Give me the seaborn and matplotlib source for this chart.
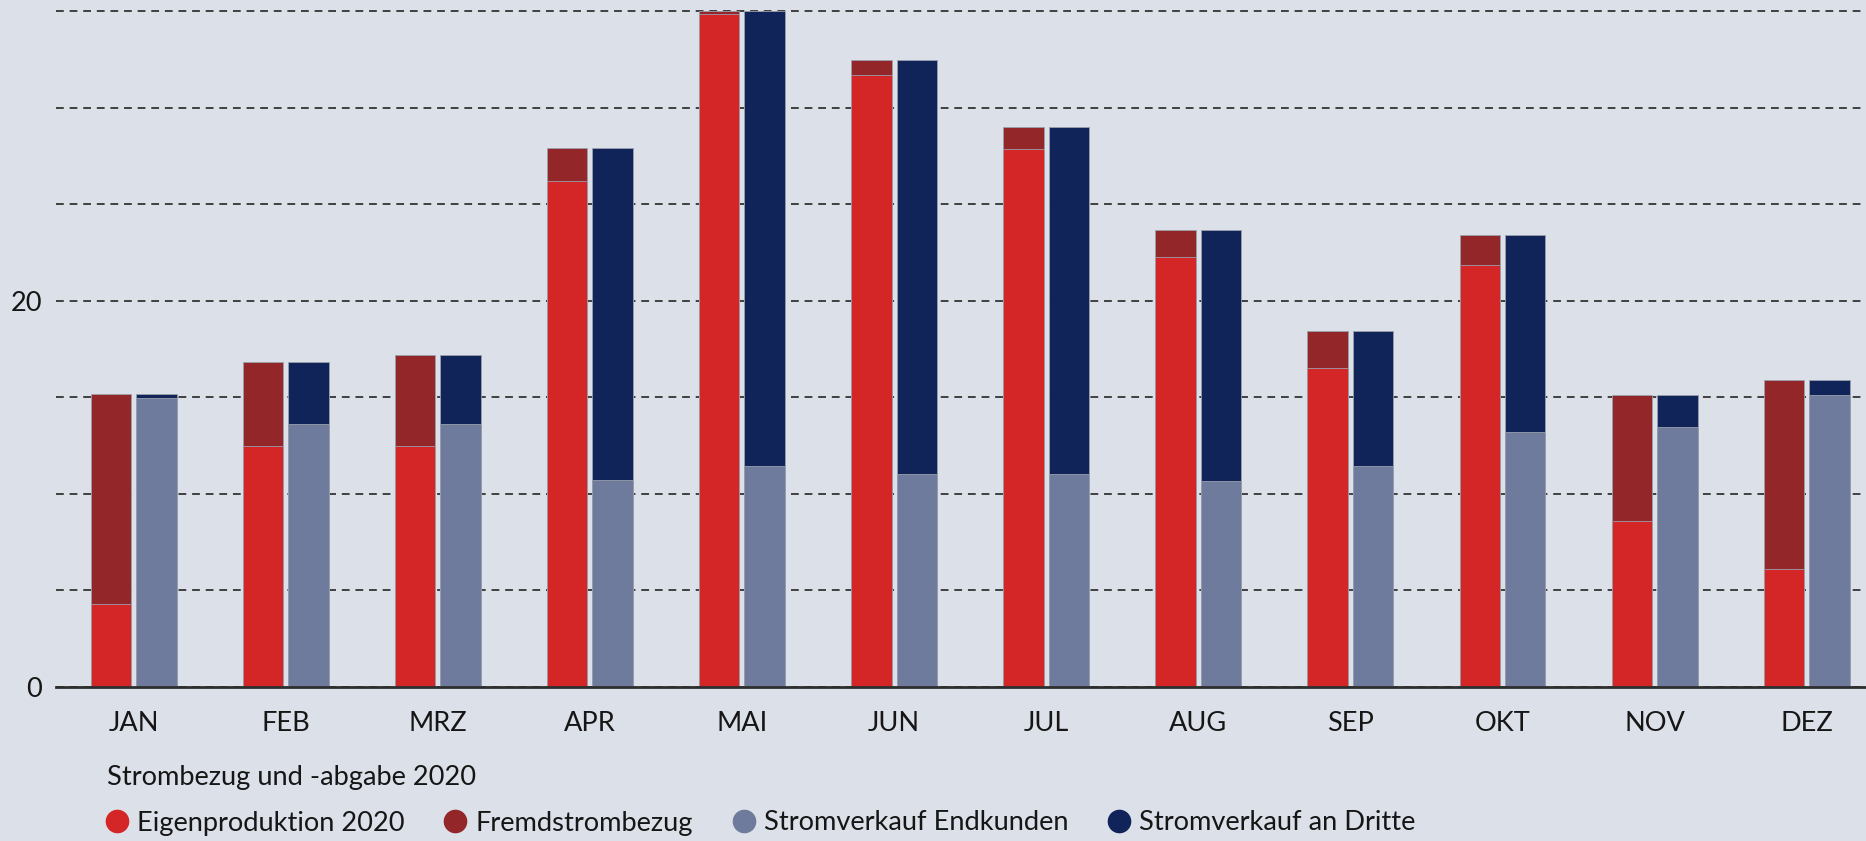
import numpy as np
import pandas as pd
import matplotlib
matplotlib.use("Agg")
import matplotlib.pyplot as plt
from matplotlib.lines import Line2D
import seaborn as sns

# values (GWh-ish scale, 0..35)
months = ["JAN", "FEB", "MRZ", "APR", "MAI", "JUN", "JUL", "AUG", "SEP", "OKT", "NOV", "DEZ"]
eigenproduktion = [4.3, 12.5, 12.5, 26.2, 34.85, 31.7, 27.85, 22.3, 16.55, 21.85, 8.6, 6.1]
fremdstrombezug = [10.9, 4.35, 4.7, 1.7, 0.15, 0.8, 1.15, 1.4, 1.9, 1.55, 6.55, 9.8]
verkauf_endkunden = [14.95, 13.65, 13.65, 10.7, 11.45, 11.05, 11.05, 10.65, 11.45, 13.2, 13.45, 15.15]
verkauf_dritte = [0.25, 3.2, 3.55, 17.2, 23.55, 21.45, 17.95, 13.05, 7.0, 10.2, 1.7, 0.75]

series_names = ["Eigenproduktion 2020", "Fremdstrombezug", "Stromverkauf Endkunden", "Stromverkauf an Dritte"]
chart_title = "Strombezug und -abgabe 2020"

BG = "#dce0e8"
C_EIGEN = "#d42527"
C_FREMD = "#932628"
C_ENDK = "#6f7b9c"
C_DRITTE = "#10245a"
TEXT = "#161616"

sns.set_theme(style="white")
plt.rcParams["font.family"] = ["Lato", "DejaVu Sans"]

eig = np.array(eigenproduktion)
fre = np.array(fremdstrombezug)
endk = np.array(verkauf_endkunden)
dri = np.array(verkauf_dritte)

# top layer = full stack height, bottom layer = lower segment
top = pd.DataFrame({
    "month": months * 2,
    "side": ["Bezug"] * 12 + ["Abgabe"] * 12,
    "value": np.concatenate([eig + fre, endk + dri]),
})
bottom = pd.DataFrame({
    "month": months * 2,
    "side": ["Bezug"] * 12 + ["Abgabe"] * 12,
    "value": np.concatenate([eig, endk]),
})

fig = plt.figure(figsize=(18.66, 8.41), dpi=100, facecolor=BG)
ax = fig.add_axes([56 / 1866, 154 / 841, 1 - 56 / 1866, (687 - 9.5) / 841])
ax.set_facecolor(BG)

bar_kw = dict(x="month", y="value", hue="side", order=months, hue_order=["Bezug", "Abgabe"],
              dodge=True, width=0.598, gap=0.11, errorbar=None, legend=False,
              edgecolor="#9aa0ad", linewidth=0.6, saturation=1, ax=ax, zorder=3)
sns.barplot(data=top, palette={"Bezug": C_FREMD, "Abgabe": C_DRITTE}, **bar_kw)
sns.barplot(data=bottom, palette={"Bezug": C_EIGEN, "Abgabe": C_ENDK}, **bar_kw)

ax.set_xlim(-0.51, 11.39)
ax.set_ylim(0, 35.1)
ax.set_yticks(range(0, 36, 5))
ax.set_yticklabels(["0" if v == 0 else "20" if v == 20 else "" for v in range(0, 36, 5)])
ax.yaxis.grid(True, color="#404040", linewidth=1.4, linestyle=(0, (4, 3)), zorder=0)
ax.xaxis.grid(False)
ax.set_axisbelow(True)
for s in ["top", "right", "left"]:
    ax.spines[s].set_visible(False)
ax.spines["bottom"].set_color("#2e2e2e")
ax.spines["bottom"].set_linewidth(2.0)
ax.spines["bottom"].set_zorder(4)
ax.tick_params(axis="x", length=0, pad=17, labelsize=19.5, labelcolor=TEXT)
ax.tick_params(axis="y", length=0, pad=10, labelsize=19.5, labelcolor=TEXT)
ax.set_xlabel("")
ax.set_ylabel("")

fig.text(107 / 1866, 63.5 / 841, chart_title, fontsize=19.6, color=TEXT, va="center", ha="left")

handles = [Line2D([], [], marker="o", linestyle="none", markersize=16, color=c)
           for c in [C_EIGEN, C_FREMD, C_ENDK, C_DRITTE]]
fig.legend(handles, series_names, loc="center left", bbox_to_anchor=(106 / 1866, 18 / 841),
           ncol=4, frameon=False, fontsize=19.6, handlelength=0.8, handletextpad=0.35,
           columnspacing=1.45, borderpad=0, borderaxespad=0, labelcolor=TEXT)

fig.savefig("out.png", dpi=100, facecolor=BG)
